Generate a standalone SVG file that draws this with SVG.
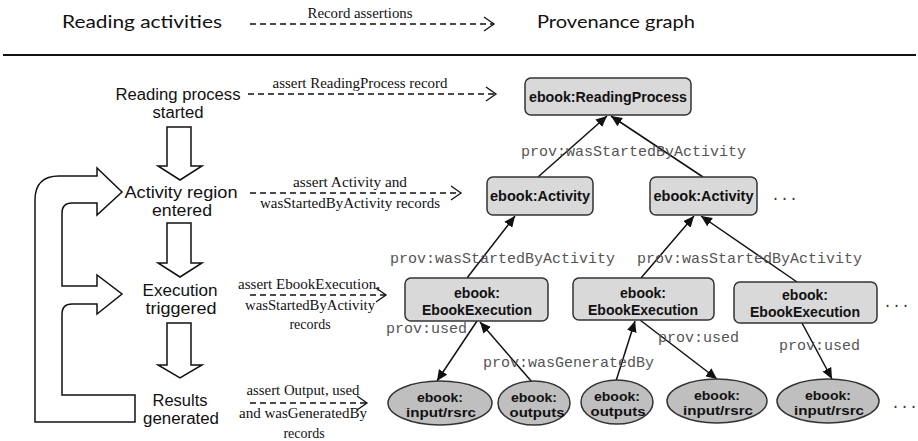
<svg xmlns="http://www.w3.org/2000/svg" width="918" height="441" viewBox="0 0 918 441">
  <style>
    .head { font-family: Lato, "Liberation Sans", sans-serif; font-size: 18px; fill: #111; }
    .step { font-family: "Liberation Sans", Arial, sans-serif; font-size: 16px; fill: #111; text-anchor: middle; }
    .note { font-family: "Liberation Serif", serif; font-size: 14px; fill: #111; text-anchor: middle; }
    .rel { font-family: "Liberation Mono", monospace; font-size: 15px; fill: #555; }
    .dots { font-family: "Liberation Mono", monospace; font-size: 15px; fill: #333; }
    .box { fill: #d9d9d9; stroke: #333; stroke-width: 1.5; }
    .ell { fill: #bfbfbf; stroke: #333; stroke-width: 1.5; }
    .lbl { font-family: "Liberation Sans", Arial, sans-serif; font-size: 15px; font-weight: bold; fill: #111; text-anchor: middle; }
    .lbl-s { font-family: "Liberation Sans", Arial, sans-serif; font-size: 13.4px; font-weight: bold; fill: #111; text-anchor: middle; }
    .edge { stroke: #111; stroke-width: 1.5; fill: none; marker-end: url(#tri); }
    .dash { stroke: #111; stroke-width: 1.3; fill: none; stroke-dasharray: 6 4; marker-end: url(#chev); }
    .block { fill: #fff; stroke: #111; stroke-width: 1.5; }
  </style>
  <defs>
    <marker id="tri" markerUnits="userSpaceOnUse" markerWidth="12" markerHeight="10" refX="11" refY="5" orient="auto">
      <path d="M0,0 L11,5 L0,10 Z" fill="#111"/>
    </marker>
    <marker id="chev" markerUnits="userSpaceOnUse" markerWidth="13" markerHeight="16" refX="11" refY="8" orient="auto">
      <path d="M1,1 L11,8 L1,15" fill="none" stroke="#111" stroke-width="1.3"/>
    </marker>
  </defs>

  <!-- header -->
  <g id="header">
    <text class="head" x="62" y="28" textLength="160" lengthAdjust="spacingAndGlyphs">Reading activities</text>
    <text class="note" x="360" y="18" font-size="13" textLength="105" lengthAdjust="spacingAndGlyphs">Record assertions</text>
    <path class="dash" d="M250,24 H494"/>
    <text class="head" x="537" y="28" textLength="158" lengthAdjust="spacingAndGlyphs">Provenance graph</text>
    <line x1="3" y1="55" x2="916" y2="55" stroke="#111" stroke-width="2"/>
  </g>

  <!-- reading activity steps -->
  <g id="step-started">
    <text class="step"><tspan x="178" y="99.5" textLength="125" lengthAdjust="spacingAndGlyphs">Reading process</tspan><tspan x="178" y="117.5" textLength="51" lengthAdjust="spacingAndGlyphs">started</tspan></text>
  </g>
  <g id="step-activity">
    <text class="step"><tspan x="181" y="197.5" textLength="113" lengthAdjust="spacingAndGlyphs">Activity region</tspan><tspan x="182" y="215.5" textLength="60" lengthAdjust="spacingAndGlyphs">entered</tspan></text>
  </g>
  <g id="step-execution">
    <text class="step"><tspan x="180" y="295.5" textLength="75" lengthAdjust="spacingAndGlyphs">Execution</tspan><tspan x="181" y="313.5" textLength="71" lengthAdjust="spacingAndGlyphs">triggered</tspan></text>
  </g>
  <g id="step-results">
    <text class="step"><tspan x="180" y="405.5" textLength="55" lengthAdjust="spacingAndGlyphs">Results</tspan><tspan x="181" y="423.5" textLength="76" lengthAdjust="spacingAndGlyphs">generated</tspan></text>
  </g>

  <!-- block arrows between steps -->
  <g id="flow-arrows">
    <path class="block" d="M167,127 H191 V166 H202 L180,180 L158,166 H167 Z"/>
    <path class="block" d="M167,223 H191 V263 H202 L180,277 L158,263 H167 Z"/>
    <path class="block" d="M167,323 H191 V365 H202 L180,378 L158,365 H167 Z"/>
    <!-- loop back from results to activity and execution -->
    <path class="block" style="fill:none" d="M135,395 V422 H35 V200 Q35,176 59,176 H97 V168 L122,192 L97,215 V203 H72 Q62,203 62,213 V286 H97 V275 L122,294 L97,314 V304 H72 Q62,304 62,314 V395 Z"/>
  </g>

  <!-- record assertions -->
  <g id="assertions">
    <text class="note" x="360" y="88" textLength="175" lengthAdjust="spacingAndGlyphs">assert ReadingProcess record</text>
    <path class="dash" d="M248,94 H496"/>
    <text class="note"><tspan x="350" y="187" textLength="114" lengthAdjust="spacingAndGlyphs">assert Activity and</tspan><tspan x="350" y="208" textLength="180" lengthAdjust="spacingAndGlyphs">wasStartedByActivity records</tspan></text>
    <path class="dash" d="M250,193 H461"/>
    <text class="note"><tspan x="309" y="289" textLength="142" lengthAdjust="spacingAndGlyphs">assert EbookExecution,</tspan><tspan x="310" y="310" textLength="130" lengthAdjust="spacingAndGlyphs">wasStartedByActivity</tspan><tspan x="310" y="329">records</tspan></text>
    <path class="dash" d="M250,295 H386"/>
    <text class="note"><tspan x="303" y="395" textLength="113" lengthAdjust="spacingAndGlyphs">assert Output, used</tspan><tspan x="303" y="418" textLength="128" lengthAdjust="spacingAndGlyphs">and wasGeneratedBy</tspan><tspan x="304" y="438">records</tspan></text>
    <path class="dash" d="M250,403 H367"/>
  </g>

  <!-- provenance graph connectors -->
  <g id="connectors">
    <path class="edge" d="M538,177 L607,116"/>
    <path class="edge" d="M703,177 L611,116"/>
    <path class="edge" d="M467,278 L515,216"/>
    <path class="edge" d="M641,278 L694,216"/>
    <path class="edge" d="M797,282 L701,216"/>
    <path class="edge" d="M477,321 L437,381"/>
    <path class="edge" d="M532,382 L480,322"/>
    <path class="edge" d="M616,381 L635,321"/>
    <path class="edge" d="M640,320 L717,379"/>
    <path class="edge" d="M802,323 L832,379"/>
    <text class="rel" x="521" y="156">prov:wasStartedByActivity</text>
    <text class="rel" x="390" y="263">prov:wasStartedByActivity</text>
    <text class="rel" x="637" y="263">prov:wasStartedByActivity</text>
    <text class="rel" x="386" y="333">prov:used</text>
    <text class="rel" x="483" y="367">prov:wasGeneratedBy</text>
    <text class="rel" x="658" y="342">prov:used</text>
    <text class="rel" x="779" y="350">prov:used</text>
  </g>

  <!-- provenance graph nodes -->
  <g id="reading-process">
    <rect class="box" x="525" y="78" width="166" height="37" rx="6"/>
    <text class="lbl" x="608" y="102" textLength="158" lengthAdjust="spacingAndGlyphs">ebook:ReadingProcess</text>
  </g>
  <g id="activity-1">
    <rect class="box" x="487" y="177" width="106" height="38" rx="6"/>
    <text class="lbl" x="540" y="201" textLength="100" lengthAdjust="spacingAndGlyphs">ebook:Activity</text>
  </g>
  <g id="activity-2">
    <rect class="box" x="650" y="177" width="107" height="38" rx="6"/>
    <text class="lbl" x="703.5" y="201" textLength="100" lengthAdjust="spacingAndGlyphs">ebook:Activity</text>
  </g>
  <text class="dots" x="771" y="200">...</text>

  <g id="execution-1">
    <rect class="box" x="405" y="278" width="143" height="43" rx="6"/>
    <text class="lbl"><tspan x="477" y="298" textLength="46" lengthAdjust="spacingAndGlyphs">ebook:</tspan><tspan x="477" y="315" textLength="110" lengthAdjust="spacingAndGlyphs">EbookExecution</tspan></text>
  </g>
  <g id="execution-2">
    <rect class="box" x="573" y="278" width="141" height="42" rx="6"/>
    <text class="lbl"><tspan x="643" y="298" textLength="46" lengthAdjust="spacingAndGlyphs">ebook:</tspan><tspan x="643" y="315" textLength="110" lengthAdjust="spacingAndGlyphs">EbookExecution</tspan></text>
  </g>
  <g id="execution-3">
    <rect class="box" x="734" y="282" width="143" height="41" rx="6"/>
    <text class="lbl"><tspan x="805" y="300" textLength="46" lengthAdjust="spacingAndGlyphs">ebook:</tspan><tspan x="805" y="317" textLength="110" lengthAdjust="spacingAndGlyphs">EbookExecution</tspan></text>
  </g>
  <text class="dots" x="883" y="307">...</text>

  <g id="input-1">
    <ellipse class="ell" cx="440" cy="403" rx="52" ry="22"/>
    <text class="lbl-s"><tspan x="440" y="402" textLength="46" lengthAdjust="spacingAndGlyphs">ebook:</tspan><tspan x="441" y="417" textLength="70" lengthAdjust="spacingAndGlyphs">input/rsrc</tspan></text>
  </g>
  <g id="outputs-1">
    <ellipse class="ell" cx="534" cy="403" rx="36" ry="22"/>
    <text class="lbl-s"><tspan x="534" y="402" textLength="46" lengthAdjust="spacingAndGlyphs">ebook:</tspan><tspan x="537" y="417" textLength="55" lengthAdjust="spacingAndGlyphs">outputs</tspan></text>
  </g>
  <g id="outputs-2">
    <ellipse class="ell" cx="617" cy="402" rx="36" ry="22"/>
    <text class="lbl-s"><tspan x="617" y="401" textLength="46" lengthAdjust="spacingAndGlyphs">ebook:</tspan><tspan x="618" y="416" textLength="55" lengthAdjust="spacingAndGlyphs">outputs</tspan></text>
  </g>
  <g id="input-2">
    <ellipse class="ell" cx="717" cy="401" rx="50" ry="22"/>
    <text class="lbl-s"><tspan x="717" y="400" textLength="46" lengthAdjust="spacingAndGlyphs">ebook:</tspan><tspan x="718" y="415" textLength="70" lengthAdjust="spacingAndGlyphs">input/rsrc</tspan></text>
  </g>
  <g id="input-3">
    <ellipse class="ell" cx="828" cy="401" rx="51" ry="22"/>
    <text class="lbl-s"><tspan x="828" y="400" textLength="46" lengthAdjust="spacingAndGlyphs">ebook:</tspan><tspan x="829" y="415" textLength="70" lengthAdjust="spacingAndGlyphs">input/rsrc</tspan></text>
  </g>
  <text class="dots" x="891" y="408">...</text>
</svg>
